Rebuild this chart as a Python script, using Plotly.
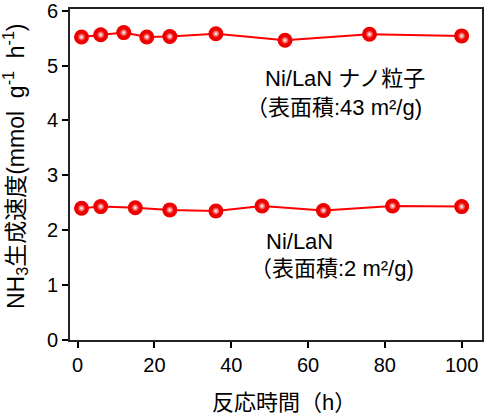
import plotly.graph_objects as go

# データ
time_nano = [1, 6, 12, 18, 24, 36, 54, 76, 100]
rate_nano = [5.52, 5.56, 5.60, 5.52, 5.53, 5.58, 5.46, 5.57, 5.54]

time_bulk = [1, 6, 15, 24, 36, 48, 64, 82, 100]
rate_bulk = [2.40, 2.43, 2.41, 2.37, 2.35, 2.44, 2.36, 2.44, 2.43]

x_ticks = [0, 20, 40, 60, 80, 100]
y_ticks = [0, 1, 2, 3, 4, 5, 6]

FONT = "Liberation Sans, Arial, Noto Sans CJK JP"
RED = "#ff0000"

fig = go.Figure()

for xs, ys in [(time_nano, rate_nano), (time_bulk, rate_bulk)]:
    fig.add_trace(go.Scatter(
        x=xs, y=ys, mode="lines+markers",
        line=dict(color=RED, width=2),
        marker=dict(size=15, color="#ee0000", line=dict(width=0)),
        showlegend=False,
    ))
    # 球のハイライト
    fig.add_trace(go.Scatter(
        x=xs, y=ys, mode="markers",
        marker=dict(size=8, color="#ee0000",
                    gradient=dict(type="radial", color="#ffffff"),
                    line=dict(width=0)),
        showlegend=False, hoverinfo="skip",
    ))

# ラベル
labels = [
    (48.3, 4.77, "Ni/LaN ナノ粒子"),
    (43.3, 4.23, "（表面積:43 m²/g)"),
    (48.6, 1.79, "Ni/LaN"),
    (44.3, 1.31, "（表面積:2 m²/g)"),
]
for x, y, t in labels:
    fig.add_annotation(x=x, y=y, text=t, showarrow=False,
                       xanchor="left", yanchor="middle", align="left",
                       font=dict(family=FONT, size=22, color="black"))

fig.add_annotation(
    xref="paper", yref="paper", x=(15 - 70) / 412, y=(340 - 166) / 331,
    text="NH<sub>3</sub>生成速度(mmol  g<sup>-1</sup>  h<sup>-1</sup>)",
    textangle=-90, showarrow=False, xanchor="center", yanchor="middle",
    font=dict(family=FONT, size=23, color="black"),
)
fig.add_annotation(
    xref="paper", yref="paper", x=(284 - 70) / 412, y=-(402 - 340) / 331,
    text="反応時間（h）", showarrow=False, xanchor="center", yanchor="middle",
    font=dict(family=FONT, size=22, color="black"),
)

fig.update_xaxes(
    range=[-2.0, 105.3], tickvals=x_ticks, ticks="outside", ticklen=6,
    tickwidth=1.5, tickcolor="black", showline=True, linecolor="#222",
    linewidth=1.8, mirror=True, showgrid=False, zeroline=False,
    automargin=False, ticklabeloverflow="allow",
    tickfont=dict(family=FONT, size=20, color="black"),
)
fig.update_yaxes(
    range=[0, 6.03], tickvals=y_ticks, ticks="outside", ticklen=6,
    tickwidth=1.5, tickcolor="black", showline=True, linecolor="#222",
    linewidth=1.8, mirror=True, showgrid=False, zeroline=False,
    automargin=False, ticklabeloverflow="allow",
    tickfont=dict(family=FONT, size=20, color="black"),
)

fig.update_layout(
    width=500, height=419,
    margin=dict(l=70, r=18, t=9, b=79),
    plot_bgcolor="white", paper_bgcolor="white",
)

fig.write_html("out.html", config={"displayModeBar": False},
               post_script="document.body.style.margin='0';")
